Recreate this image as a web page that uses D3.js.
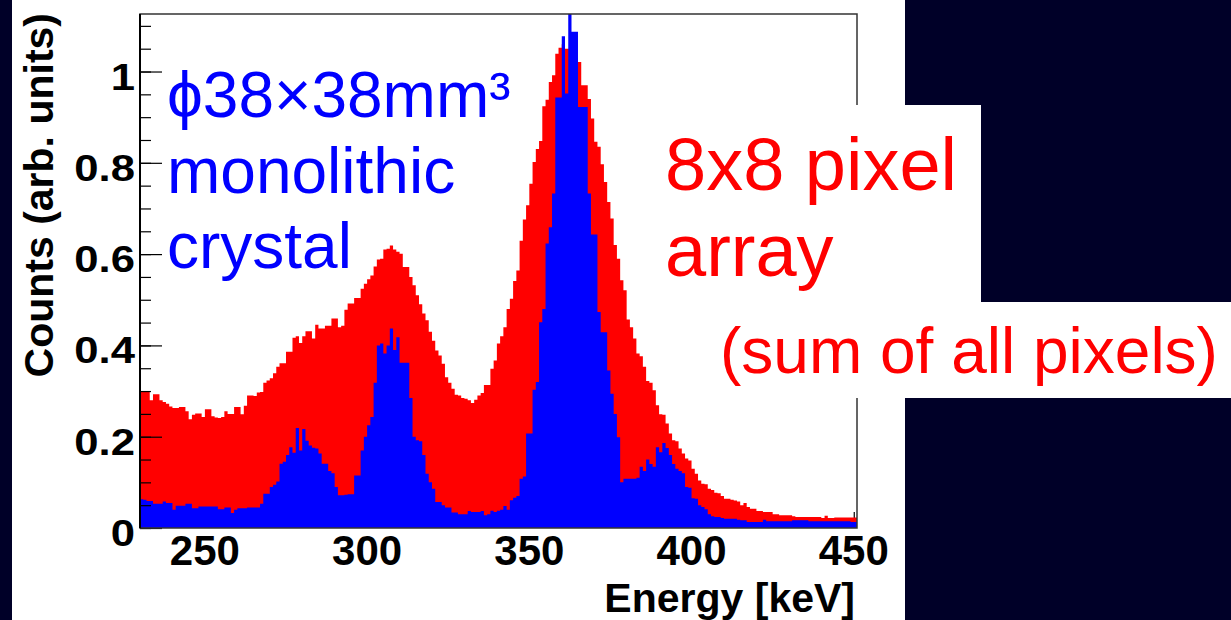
<!DOCTYPE html>
<html>
<head>
<meta charset="utf-8">
<script src="https://cdn.jsdelivr.net/npm/d3@7"></script>
<style>
  body { margin: 0; background: #000028; }
  svg { display: block; }
  text { font-family: "Liberation Sans", Arial, sans-serif; }
</style>
</head>
<body>
<svg id="chart"></svg>
<script>
// bins are 1 keV wide, first bin starts at 230 keV
const binStart = 230
const binWidth = 1

// 8x8 pixel array, sum of all pixels (red)
const arrayCounts = [
  0.30, 0.30, 0.30, 0.28, 0.293, 0.293, 0.28, 0.276, 0.272, 0.266,
  0.263, 0.263, 0.265, 0.265, 0.256, 0.238, 0.248, 0.251, 0.251, 0.243,
  0.26, 0.26, 0.245, 0.242, 0.241, 0.243, 0.256, 0.25, 0.25, 0.265,
  0.265, 0.249, 0.268, 0.29, 0.29, 0.289, 0.297,
  0.298, 0.318, 0.323, 0.328, 0.339, 0.353, 0.361, 0.361, 0.386, 0.386,
  0.417, 0.42, 0.405, 0.42, 0.431, 0.431, 0.415, 0.445, 0.437, 0.437,
  0.443, 0.443, 0.459, 0.459, 0.44, 0.443, 0.478, 0.492, 0.492, 0.504,
  0.504, 0.524, 0.535, 0.545, 0.553, 0.573, 0.588,
  0.59, 0.61, 0.612, 0.619, 0.61, 0.605, 0.601, 0.572, 0.572, 0.55,
  0.532, 0.51, 0.49, 0.47, 0.455, 0.43, 0.41, 0.389, 0.378, 0.36,
  0.33, 0.318, 0.305, 0.292, 0.29, 0.285, 0.283, 0.28, 0.274, 0.281,
  0.29, 0.296, 0.313, 0.313, 0.349, 0.367, 0.404,
  0.42, 0.44, 0.48, 0.502, 0.541, 0.564, 0.629, 0.676, 0.707, 0.754,
  0.802, 0.83, 0.848, 0.924, 0.938, 0.977, 0.992, 1.039, 1.052, 1.06,
  1.05, 1.05, 1.04, 1.03, 1.021, 0.97, 0.97, 0.94, 0.897, 0.846,
  0.835, 0.797, 0.758, 0.714, 0.678, 0.62, 0.59,
  0.543, 0.521, 0.457, 0.44, 0.415, 0.382, 0.376, 0.353, 0.322, 0.318,
  0.302, 0.269, 0.249, 0.248, 0.229, 0.207, 0.192, 0.19, 0.174, 0.163,
  0.152, 0.148, 0.13, 0.119, 0.104, 0.097, 0.096, 0.086, 0.083, 0.077,
  0.076, 0.07, 0.064, 0.064, 0.062, 0.06, 0.058, 0.05,
  0.055, 0.046, 0.042, 0.042, 0.037, 0.037, 0.035, 0.035, 0.035, 0.03,
  0.03, 0.028, 0.028, 0.028, 0.028, 0.026, 0.024, 0.024, 0.024, 0.024,
  0.024, 0.024, 0.024, 0.024, 0.022, 0.027, 0.022, 0.022, 0.023, 0.023,
  0.023, 0.023, 0.023, 0.023, 0.023
]

// monolithic crystal (blue)
const monoCounts = [
  0.063, 0.062, 0.059, 0.059, 0.053, 0.053, 0.053, 0.058, 0.055, 0.055,
  0.04, 0.049, 0.049, 0.049, 0.053, 0.053, 0.043, 0.043, 0.047, 0.047,
  0.047, 0.047, 0.047, 0.047, 0.041, 0.041, 0.045, 0.045, 0.033, 0.04,
  0.043, 0.043, 0.043, 0.045, 0.045, 0.045, 0.045,
  0.053, 0.075, 0.075, 0.09, 0.095, 0.102, 0.141, 0.145, 0.16, 0.177,
  0.165, 0.219, 0.17, 0.217, 0.191, 0.181, 0.176, 0.174, 0.163, 0.141,
  0.141, 0.125, 0.12, 0.09, 0.072, 0.072, 0.073, 0.074, 0.074, 0.115,
  0.115, 0.17, 0.2, 0.225, 0.243, 0.318, 0.40,
  0.404, 0.382, 0.40, 0.437, 0.39, 0.418, 0.362, 0.362, 0.362, 0.285,
  0.20, 0.192, 0.19, 0.16, 0.119, 0.10, 0.086, 0.057, 0.057, 0.05,
  0.045, 0.045, 0.034, 0.034, 0.03, 0.03, 0.03, 0.037, 0.035, 0.035,
  0.035, 0.037, 0.028, 0.03, 0.038, 0.035, 0.038,
  0.04, 0.048, 0.04, 0.061, 0.066, 0.07, 0.108, 0.113, 0.207, 0.207,
  0.303, 0.32, 0.451, 0.48, 0.623, 0.659, 0.733, 0.943, 0.943, 1.077,
  0.952, 1.13, 1.087, 1.087, 0.922, 0.922, 0.922, 0.733, 0.643, 0.643,
  0.473, 0.429, 0.429, 0.345, 0.294, 0.25, 0.199,
  0.10, 0.108, 0.108, 0.108, 0.108, 0.11, 0.134, 0.125, 0.15, 0.14,
  0.134, 0.177, 0.166, 0.186, 0.175, 0.16, 0.14, 0.13, 0.125, 0.12,
  0.09, 0.088, 0.065, 0.064, 0.05, 0.046, 0.041, 0.03, 0.026, 0.024,
  0.024, 0.022, 0.02, 0.02, 0.02, 0.02, 0.018, 0.017,
  0.017, 0.013, 0.013, 0.013, 0.013, 0.013, 0.018, 0.015, 0.015, 0.015,
  0.015, 0.015, 0.015, 0.015, 0.015, 0.017, 0.017, 0.017, 0.017, 0.017,
  0.015, 0.015, 0.015, 0.015, 0.015, 0.015, 0.015, 0.015, 0.015, 0.015,
  0.015, 0.015, 0.015, 0.013, 0.013
]

const xTicks = [250, 300, 350, 400, 450]
const yTicks = [0, 0.2, 0.4, 0.6, 0.8, 1]
const yTickLabels = ['0', '0.2', '0.4', '0.6', '0.8', '1']

const W = 1231, H = 620
const frame = {left: 140, top: 14, right: 857, bottom: 528}

let svg = d3.select('#chart').attr('width', W).attr('height', H)

// white slide panel
svg.append('rect')
  .attr('x', 12).attr('y', 0)
  .attr('width', 905 - 12).attr('height', H)
  .attr('fill', 'white')

let x = d3.scaleLinear().domain([230, 451]).range([frame.left, frame.right])
let y = d3.scaleLinear().domain([0, 1.126]).range([frame.bottom, frame.top])

svg.append('clipPath').attr('id', 'frame-clip')
  .append('rect')
  .attr('x', frame.left).attr('y', frame.top)
  .attr('width', frame.right - frame.left).attr('height', frame.bottom - frame.top)

// x ticks sit under the histograms (ROOT style, pointing in)
svg.append('g')
  .attr('transform', `translate(0,${frame.bottom})`)
  .call(d3.axisTop(x).tickValues(d3.range(240, 451, 10)).tickSize(8).tickFormat(''))
  .call(g => g.select('.domain').remove())
svg.append('g')
  .attr('transform', `translate(0,${frame.bottom})`)
  .call(d3.axisTop(x).tickValues(xTicks).tickSize(16).tickFormat(''))
  .call(g => g.select('.domain').remove())

function toSteps(vals) {
  let pts = vals.map((v, i) => [binStart + i * binWidth, v])
  pts.push([binStart + vals.length * binWidth, vals[vals.length - 1]])
  return pts
}

let area = d3.area()
  .curve(d3.curveStepAfter)
  .x(d => x(d[0]))
  .y0(y(0))
  .y1(d => y(d[1]))

let hists = svg.append('g').attr('clip-path', 'url(#frame-clip)')
hists.append('path')
  .datum(toSteps(arrayCounts))
  .attr('d', area)
  .attr('fill', '#ff0000')
hists.append('path')
  .datum(toSteps(monoCounts))
  .attr('d', area)
  .attr('fill', '#0000ff')

// y ticks, drawn over the fills
svg.append('g')
  .attr('transform', `translate(${frame.left},0)`)
  .call(d3.axisRight(y).tickValues(d3.range(0, 1.126, 0.05)).tickSize(11).tickFormat(''))
  .call(g => g.select('.domain').remove())
svg.append('g')
  .attr('transform', `translate(${frame.left},0)`)
  .call(d3.axisRight(y).tickValues(yTicks).tickSize(22).tickFormat(''))
  .call(g => g.select('.domain').remove())
svg.selectAll('.tick line').attr('stroke', '#000').attr('stroke-width', 1.2)

// frame
svg.append('rect')
  .attr('x', frame.left).attr('y', frame.top)
  .attr('width', frame.right - frame.left).attr('height', frame.bottom - frame.top)
  .attr('fill', 'none')
  .attr('stroke', '#333')
  .attr('stroke-width', 1.5)
svg.append('line')
  .attr('x1', frame.left).attr('x2', frame.left)
  .attr('y1', frame.top).attr('y2', frame.bottom)
  .attr('stroke', '#000').attr('stroke-width', 2)

// tick labels
svg.selectAll('.ylab')
  .data(yTicks)
  .enter()
  .append('text')
  .attr('class', 'ylab')
  .attr('transform', d => `translate(135,${y(d) + 18}) scale(1.18,1)`)
  .attr('text-anchor', 'end')
  .attr('font-size', 37)
  .attr('font-weight', 'bold')
  .attr('fill', '#000')
  .text((d, i) => yTickLabels[i])

svg.selectAll('.xlab')
  .data(xTicks)
  .enter()
  .append('text')
  .attr('class', 'xlab')
  .attr('x', d => x(d))
  .attr('y', 565)
  .attr('text-anchor', 'middle')
  .attr('font-size', 42)
  .attr('font-weight', 'bold')
  .attr('fill', '#000')
  .text(d => d)

// axis titles
svg.append('text')
  .attr('transform', 'translate(53,13) rotate(-90)')
  .attr('text-anchor', 'end')
  .attr('font-size', 41)
  .attr('font-weight', 'bold')
  .text('Counts (arb. units)')

svg.append('text')
  .attr('x', 855).attr('y', 612)
  .attr('text-anchor', 'end')
  .attr('font-size', 41)
  .attr('font-weight', 'bold')
  .text('Energy [keV]')

// white label boxes on the right (they cover the frame edge)
svg.append('rect')
  .attr('x', 650).attr('y', 105)
  .attr('width', 981 - 650).attr('height', 302 - 105)
  .attr('fill', 'white')
svg.append('rect')
  .attr('x', 712).attr('y', 302)
  .attr('width', W - 712).attr('height', 398 - 302)
  .attr('fill', 'white')

// annotations
let monoLines = ['\u03D538\u00D738mm\u00B3', 'monolithic', 'crystal']
svg.selectAll('.mono')
  .data(monoLines)
  .enter()
  .append('text')
  .attr('class', 'mono')
  .attr('x', 167)
  .attr('y', (d, i) => [117, 193, 268][i])
  .attr('font-size', 64)
  .attr('fill', '#0000ff')
  .text(d => d)

svg.append('text')
  .attr('x', 665).attr('y', 190)
  .attr('font-size', 74)
  .attr('fill', '#ff0000')
  .text('8x8 pixel')
svg.append('text')
  .attr('x', 665).attr('y', 276)
  .attr('font-size', 74)
  .attr('fill', '#ff0000')
  .text('array')
svg.append('text')
  .attr('x', 720).attr('y', 373)
  .attr('font-size', 64)
  .attr('fill', '#ff0000')
  .text('(sum of all pixels)')
</script>
</body>
</html>
